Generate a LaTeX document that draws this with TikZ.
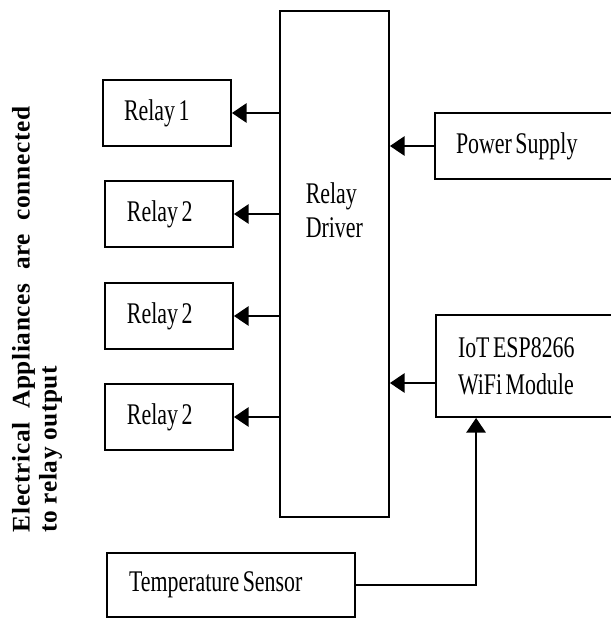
\documentclass[tikz,border=0pt]{standalone}
\usepackage{fontspec}
\setmainfont{Liberation Serif}
\newfontfamily\condfont[FakeStretch=0.73]{Liberation Serif}
\newfontfamily\notefont[LetterSpace=2.5]{Liberation Serif Bold}
\newcommand\tightspace{\fontdimen2\font=2.6pt\relax\fontdimen3\font=0.6pt\relax\fontdimen4\font=0.4pt\relax\spaceskip=2.6pt plus 0.6pt minus 0.4pt\relax\xspaceskip=\spaceskip}
\newcommand\condsize{\condfont\fontsize{22.5pt}{27.75pt}\selectfont\tightspace}
\newcommand\drvsize{\condfont\fontsize{22.5pt}{25.5pt}\selectfont\tightspace}
\usetikzlibrary{arrows.meta}
\begin{document}
\begin{tikzpicture}[x=0.75pt,y=-0.75pt,
  box/.style={draw, line width=1.4pt, rectangle, inner ysep=0pt, align=left,
    font=\condsize, execute at begin node=\tightspace},
  relaybox/.style={box, minimum width=96pt, minimum height=49.5pt, inner xsep=16.5pt, text width=63pt},
  arr/.style={line width=1.4pt, -{Triangle[length=11pt,width=14.5pt]}},
  notetext/.style={rotate=90, inner sep=0pt, font=\notefont\fontsize{19pt}{20.25pt}\selectfont}]
\fill[white] (0,0) rectangle (611,619);
\useasboundingbox (0,0) rectangle (611,619);
\clip (0,0) rectangle (611,619);

% relay driver
\node[box, minimum width=81.75pt, minimum height=379.5pt, inner xsep=0pt,
  label={[name=drvtext, anchor=west, xshift=16.5pt, yshift=40.5pt, align=left,
    font=\drvsize]west:Relay\\Driver}]
  (drv) at (334.5,264) {};

% relays
\node[relaybox, inner xsep=15.75pt, text width=64.5pt] (r1) at (167,113) {Relay 1};
\node[relaybox] (r2) at (169,214) {Relay 2};
\node[relaybox] (r3) at (169,316) {Relay 2};
\node[relaybox] (r4) at (169,417) {Relay 2};

% inputs
\node[box, minimum width=137.25pt, minimum height=49.5pt, inner xsep=15.75pt, text width=105.75pt]
  (ps) at (526.5,146) {Power Supply};
\node[box, minimum width=136.5pt, minimum height=76.5pt, inner xsep=16.5pt, text width=103.5pt]
  (iot) at (527,366) {IoT ESP8266\\WiFi Module};
\node[box, minimum width=186pt, minimum height=48pt, inner xsep=16.5pt, text width=153pt]
  (temp) at (231,585) {Temperature Sensor};

% side note
\node[notetext] (note) at (37,319.5)
  {\parbox{319pt}{\spaceskip=0.25em plus 1em minus 0.1em
   Electrical Appliances are connected\linebreak to relay output}};

% connectors
\foreach \r in {r1,r2,r3,r4}
  \draw[arr] (\r.east -| drv.west) -- (\r.east);
\draw[arr] (ps.west) -- (ps.west -| drv.east);
\coordinate (iotout) at ([yshift=-12.75pt]iot.west);
\draw[arr] (iotout) -- (iotout -| drv.east);
\coordinate (iotin) at ([xshift=30.75pt]iot.south west);
\draw[arr] (temp.east) -| (iotin);
\end{tikzpicture}
\end{document}
